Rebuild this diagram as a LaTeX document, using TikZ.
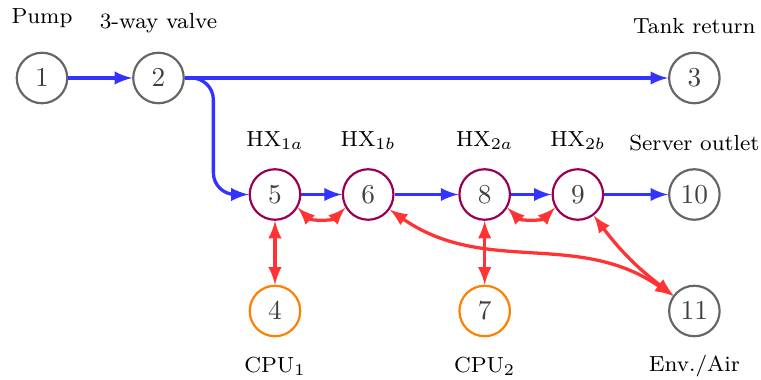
\documentclass[tikz,border=0pt]{standalone}
\usepackage{amsmath,amssymb}
\usepackage{tikz}
\usetikzlibrary{arrows}

\definecolor{flowblue}{RGB}{51,51,255}
\definecolor{heatred}{RGB}{255,51,51}
\definecolor{hxpurple}{RGB}{153,0,85}

\begin{document}
\begin{tikzpicture}[>=latex, x=1.5cm, y=1.5cm, semithick,
      port/.style={circle,draw=black!60,thick,text=black!75,minimum size=18.5pt,inner sep=0pt},
      hx/.style={port,draw=hxpurple},
      cpu/.style={port,draw=orange},
      tag/.style={font=\footnotesize,anchor=base,inner sep=0pt},
      flow/.style={very thick,->,draw=flowblue},
      heat/.style={very thick,<->,draw=heatred}]
      \useasboundingbox (-0.3605,-2.584) rectangle (6.172,0.6695);
      \node[port] at (0,0)    (n1) {$1$};
      \node[port] at (1,0)    (n2) {$2$};
      \node[port] at (5.6,0)  (n3) {$3$};
      \node[cpu]  at (2,-2)   (n4) {$4$};
      \node[hx]   at (2,-1)   (n5) {$5$};
      \node[hx]   at (2.8,-1) (n6) {$6$};
      \node[cpu]  at (3.8,-2) (n7) {$7$};
      \node[hx]   at (3.8,-1) (n8) {$8$};
      \node[hx]   at (4.6,-1) (n9) {$9$};
      \node[port] at (5.6,-1) (n10) {$10$};
      \node[port] at (5.6,-2) (n11) {$11$};
      % labels
      \node[tag] at (0,0.464)     (lpump) {Pump};
      \node[tag] at (1,0.427)     (lvalve) {3-way valve};
      \node[tag] at (5.6,0.378)   (ltank) {Tank return};
      \node[tag] at (2,-0.584)    (lhx1a) {HX$_{1a}$};
      \node[tag] at (2.8,-0.584)  (lhx1b) {HX$_{1b}$};
      \node[tag] at (3.8,-0.584)  (lhx2a) {HX$_{2a}$};
      \node[tag] at (4.6,-0.584)  (lhx2b) {HX$_{2b}$};
      \node[tag] at (5.6,-0.62)   (lserver) {Server outlet};
      \node[tag] at (2,-2.532)    (lcpu1) {CPU$_1$};
      \node[tag] at (3.8,-2.532)  (lcpu2) {CPU$_2$};
      \node[tag] at (5.6,-2.52)   (lenv) {Env./Air};
      % coolant
      \draw[flow] (n1) -- (n2);
      \draw[flow] (n2) -- (n3);
      \draw[flow,rounded corners=8pt] (n2.east) -- ++(0.245,0) |- (n5.west);
      \draw[flow] (n5) -- (n6);
      \draw[flow] (n6) -- (n8);
      \draw[flow] (n8) -- (n9);
      \draw[flow] (n9) -- (n10);
      % heat
      \draw[heat] (n4) -- (n5);
      \draw[heat] (n7) -- (n8);
      \draw[heat] (n5.-30) to[bend right=45] (n6.-150);
      \draw[heat] (n8.-30) to[bend right=45] (n9.-150);
      \draw[heat] (n9) to[bend right=8] (n11);
      \draw[heat] (n6) to[out=-35,in=145] (n11);
    \end{tikzpicture}
\end{document}
